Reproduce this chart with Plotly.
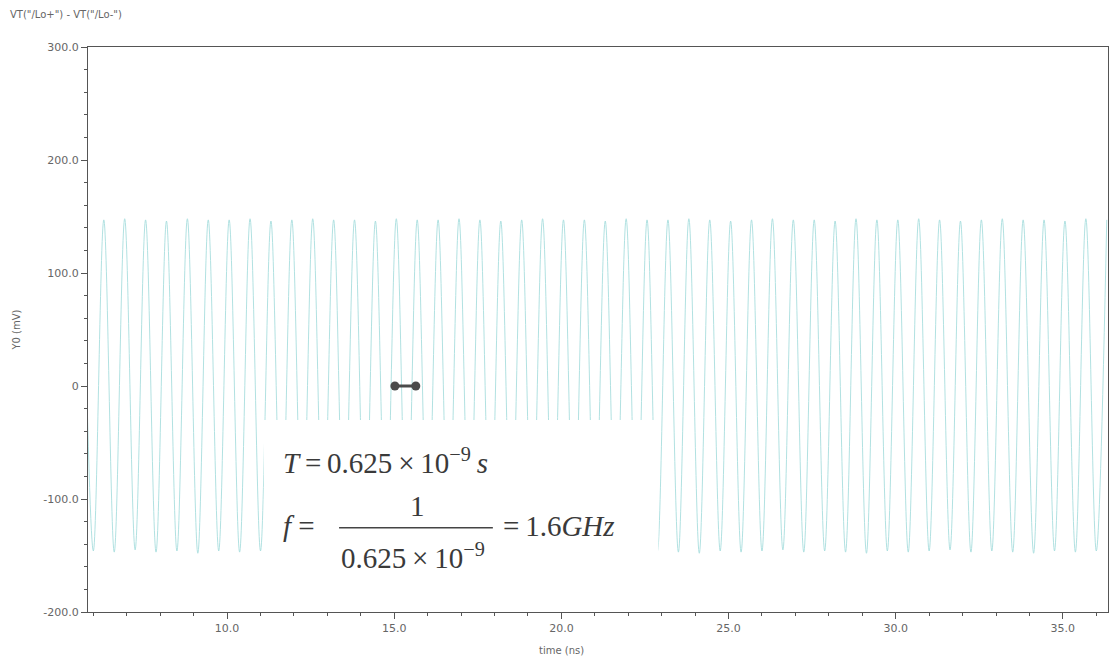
import plotly.graph_objects as go

# ---- data ----
PERIOD_NS = 0.625          # T = 0.625 ns (1.6 GHz)
FIRST_TROUGH_NS = 6.0      # first visible trough near left edge
# peak / trough amplitudes (mV) of each cycle, left to right
peak_mv = [147, 148, 147, 146, 148, 147, 147, 148, 146, 147,
           148, 147, 147, 146, 148, 147, 147, 148, 147, 146,
           147, 148, 147, 147, 146, 148, 147, 147, 148, 147,
           146, 147, 148, 147, 147, 146, 148, 147, 147, 148,
           147, 146, 147, 148, 147, 147, 146, 148, 147]
trough_mv = [-146, -147, -145, -147, -146, -148, -146, -147, -146, -145,
             -147, -146, -147, -148, -146, -147, -146, -145, -147, -146,
             -147, -146, -148, -147, -146, -145, -147, -146, -147, -148,
             -146, -147, -146, -145, -147, -146, -147, -148, -146, -147,
             -146, -145, -147, -146, -147, -148, -146, -147, -146]
marker_x = [15.02, 15.645]
marker_y = [0, 0]
x_ticks = [10, 15, 20, 25, 30, 35]
x_tick_text = ["10.0", "15.0", "20.0", "25.0", "30.0", "35.0"]
y_ticks = [300, 200, 100, 0, -100, -200]
y_tick_text = ["300.0", "200.0", "100.0", "0", "-100.0", "-200.0"]

# build waveform through alternating trough/peak points
t, v = [], []
for k, (lo, hi) in enumerate(zip(trough_mv, peak_mv)):
    t.append(FIRST_TROUGH_NS + k * PERIOD_NS)
    v.append(lo)
    t.append(FIRST_TROUGH_NS + (k + 0.5) * PERIOD_NS)
    v.append(hi)
# partial start at left edge
t.insert(0, FIRST_TROUGH_NS - PERIOD_NS / 2)
v.insert(0, 147)

AX = "#555555"
TXT = "#666666"
W, H = 1112, 664
ml, mr, mt, mb = 88, 4, 47, 52
pw, ph = W - ml - mr, H - mt - mb

fig = go.Figure()
fig.add_trace(go.Scatter(x=t, y=v, mode="lines",
                         line=dict(color="#a8dede", width=0.9, shape="spline"),
                         showlegend=False, hoverinfo="skip"))
fig.add_trace(go.Scatter(x=marker_x, y=marker_y, mode="lines+markers",
                         line=dict(color="#4a4a4a", width=3),
                         marker=dict(color="#4a4a4a", size=9),
                         showlegend=False))

fig.add_shape(type="rect", xref="x", yref="y", x0=11.1, x1=22.9, y0=-190, y1=-30,
              fillcolor="white", line=dict(width=0), layer="above")
fig.add_shape(type="line", xref="x", yref="y", x0=13.35, x1=17.95, y0=-125.5, y1=-125.5,
              line=dict(color="#444444", width=1.5), layer="above")

serif = dict(family="Liberation Serif, Times New Roman, serif", size=29, color="#3a3a3a")
TS = "\u2009"
fig.add_annotation(x=11.62, y=-66, xref="x", yref="y", xanchor="left", yanchor="middle",
                   text=f"<i>T</i>{TS}={TS}0.625{TS}×{TS}10<sup>−9</sup>{TS}<i>s</i>",
                   showarrow=False, font=serif)
fig.add_annotation(x=11.62, y=-124, xref="x", yref="y", xanchor="left", yanchor="middle",
                   text="<i>f</i> =", showarrow=False, font=serif)
fig.add_annotation(x=15.7, y=-106, xref="x", yref="y", xanchor="center", yanchor="middle",
                   text="1", showarrow=False, font=serif)
fig.add_annotation(x=15.55, y=-150, xref="x", yref="y", xanchor="center", yanchor="middle",
                   text=f"0.625{TS}×{TS}10<sup>−9</sup>", showarrow=False, font=serif)
fig.add_annotation(x=18.2, y=-124, xref="x", yref="y", xanchor="left", yanchor="middle",
                   text=f"={TS}1.6<i>GHz</i>", showarrow=False, font=serif)

small = dict(family="DejaVu Sans, Verdana, sans-serif", size=10, color=TXT)
fig.add_annotation(x=(8 - ml) / pw, y=1 + (mt - 14) / ph, xref="paper", yref="paper",
                   text='VT("/Lo+") - VT("/Lo-")',
                   showarrow=False, font=small, xanchor="left", yanchor="middle")
fig.add_annotation(x=20, y=-(650 - (mt + ph)) / ph, xref="x", yref="paper",
                   text="time (ns)", showarrow=False, font=small,
                   xanchor="center", yanchor="middle")

fig.update_layout(
    width=W, height=H,
    margin=dict(l=ml, r=mr, t=mt, b=mb),
    paper_bgcolor="white", plot_bgcolor="white",
    font=small,
    xaxis=dict(range=[5.84, 36.35], tickvals=x_ticks, ticktext=x_tick_text,
               showgrid=False, zeroline=False, showline=True, linecolor=AX, linewidth=1,
               mirror=True, ticks="outside", ticklen=6, tickcolor=AX,
               minor=dict(dtick=1, ticks="outside", ticklen=3, tickcolor=AX),
               tickfont=dict(size=11, color=TXT)),
    yaxis=dict(range=[-200, 300], tickvals=y_ticks, ticktext=y_tick_text,
               showgrid=False, zeroline=False, showline=True, linecolor=AX, linewidth=1,
               mirror=True, ticks="outside", ticklen=6, tickcolor=AX,
               minor=dict(dtick=20, ticks="outside", ticklen=3, tickcolor=AX),
               tickfont=dict(size=11, color=TXT),
               title=dict(text="Y0 (mV)", font=dict(size=10, color=TXT), standoff=20)),
)
fig.write_html("out.html")
